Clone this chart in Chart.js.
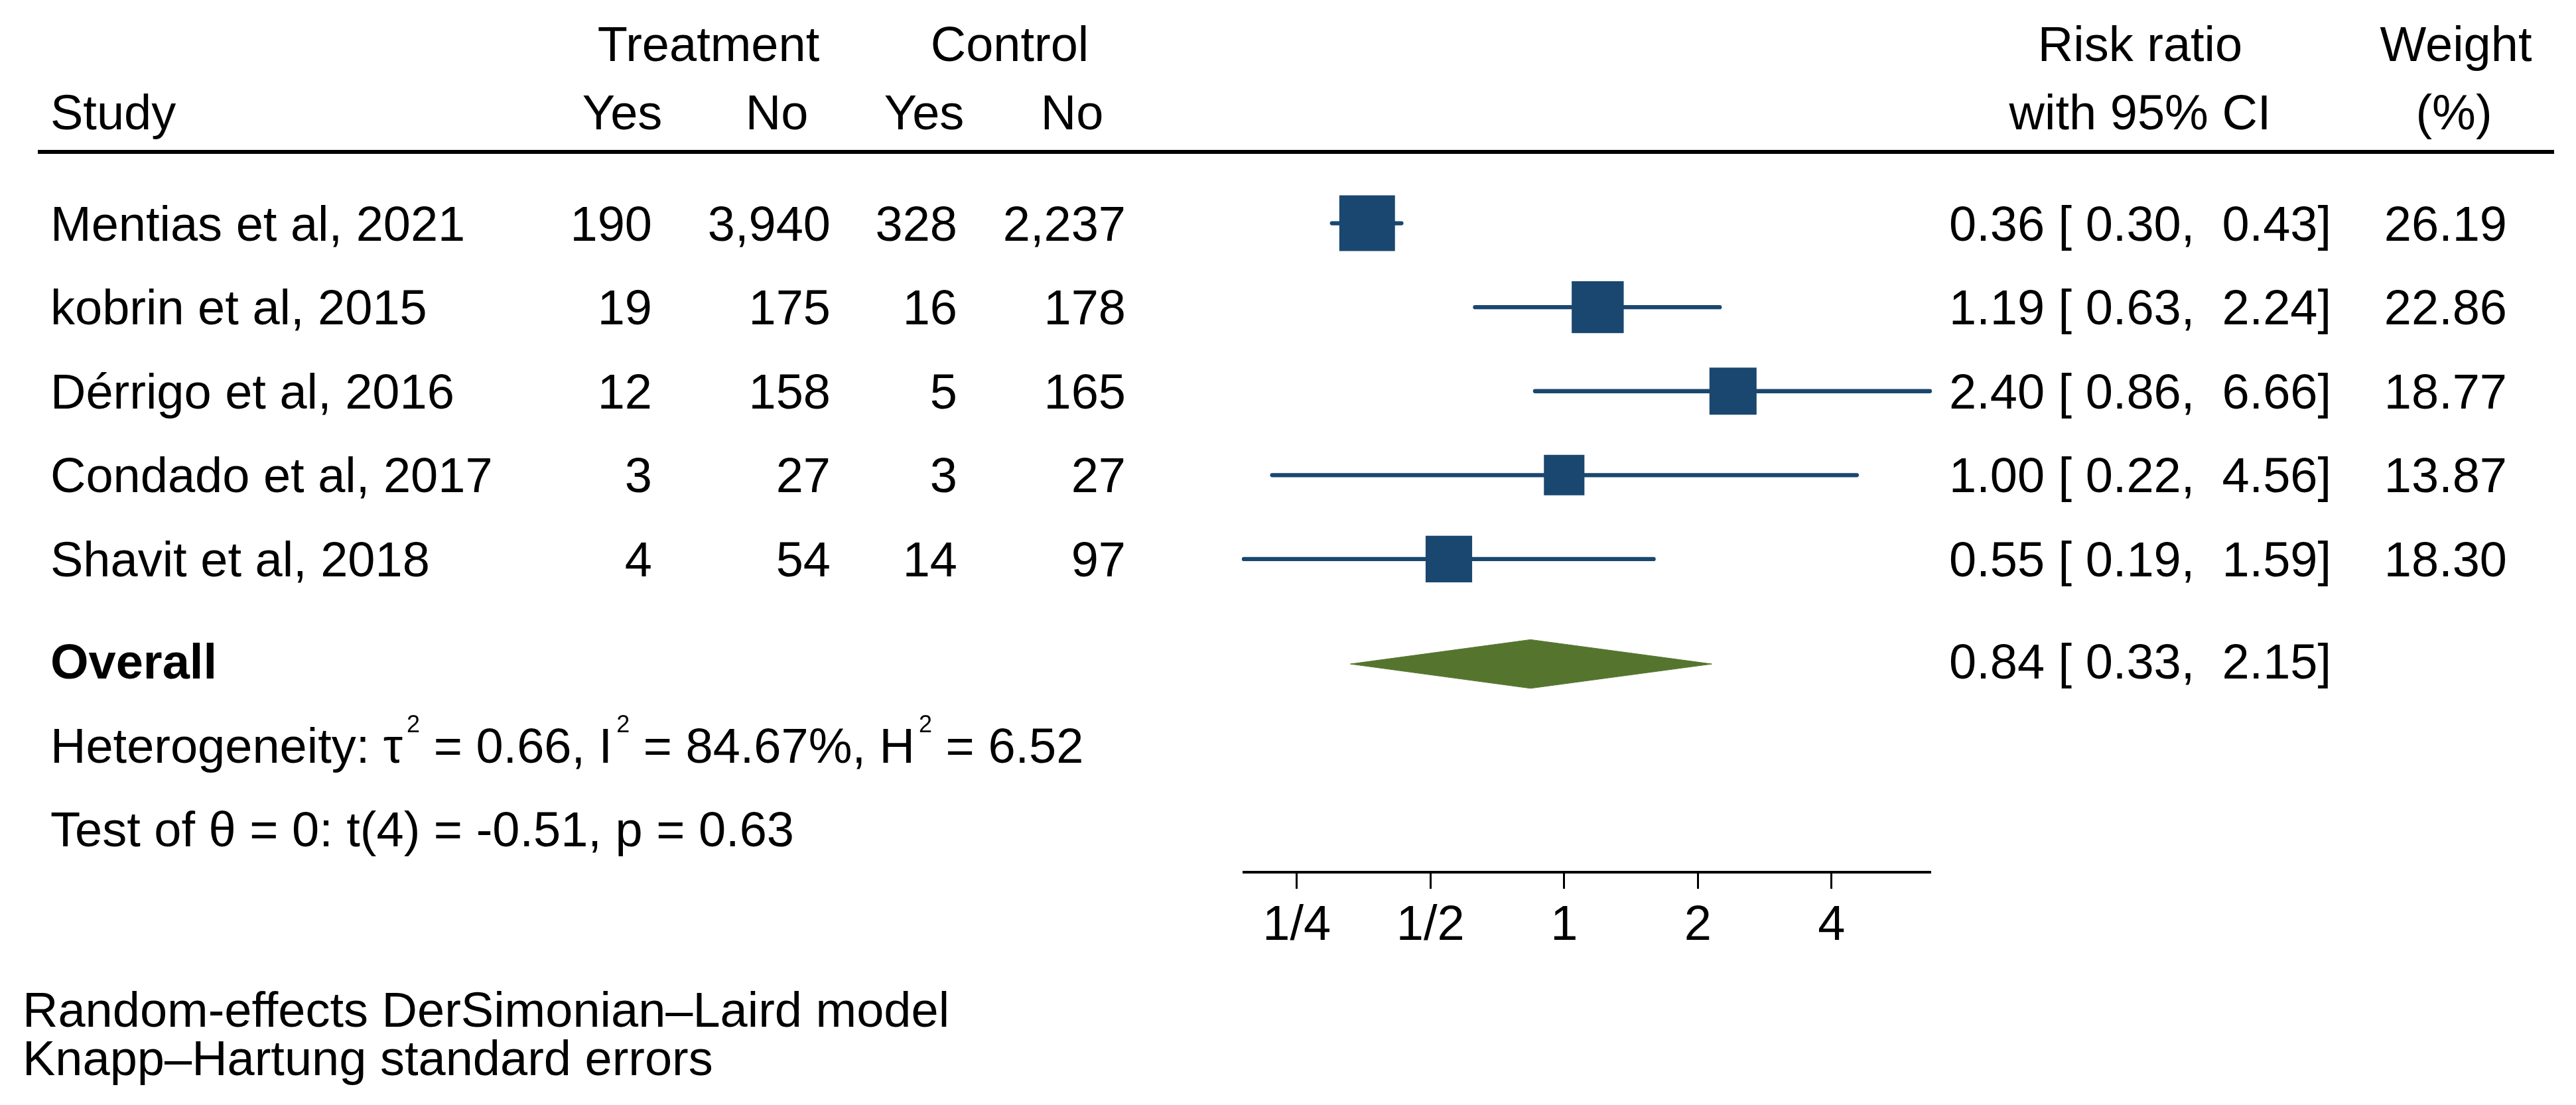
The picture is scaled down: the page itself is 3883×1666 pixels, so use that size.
<!DOCTYPE html>
<html>
<head>
<meta charset="utf-8">
<script src="https://cdn.jsdelivr.net/npm/chart.js@4.4.1/dist/chart.umd.min.js"></script>
<style>
  html, body { margin: 0; padding: 0; background: #fff; }
  #wrap { width: 3883px; height: 1666px; }
</style>
</head>
<body>
<div id="wrap"><canvas id="forest" width="3883" height="1666"></canvas></div>
<script>
// study table
const studies = ['Mentias et al, 2021', 'kobrin et al, 2015', 'Dérrigo et al, 2016', 'Condado et al, 2017', 'Shavit et al, 2018'];
const treatYes = [190, 19, 12, 3, 4];
const treatNo = [3940, 175, 158, 27, 54];
const ctrlYes = [328, 16, 5, 3, 14];
const ctrlNo = [2237, 178, 165, 27, 97];

// risk ratios, 95% CI and weights
const rr = [0.36, 1.19, 2.40, 1.00, 0.55];
const ciLow = [0.30, 0.63, 0.86, 0.22, 0.19];
const ciHigh = [0.43, 2.24, 6.66, 4.56, 1.59];
const weights = [26.19, 22.86, 18.77, 13.87, 18.30];

// pooled estimate
const overallRR = 0.84;
const overallLow = 0.33;
const overallHigh = 2.15;

// x axis
const tickValues = [0.25, 0.5, 1, 2, 4];
const tickLabels = ['1/4', '1/2', '1', '2', '4'];

const FONT = '"Liberation Sans", Arial, Helvetica, sans-serif';
const NAVY = '#1a476f';
const GREEN = '#55752f';
const overallRow = 6.25;

const fmt = n => n.toLocaleString('en-US');
const ciText = (e, l, h) => e.toFixed(2) + ' [ ' + l.toFixed(2) + ',  ' + h.toFixed(2) + ']';

const datasets = [];

// CI whiskers
studies.forEach((s, i) => {
  datasets.push({
    data: [{ x: ciLow[i], y: i + 1 }, { x: ciHigh[i], y: i + 1 }],
    showLine: true,
    borderColor: NAVY,
    borderWidth: 6.3,
    borderCapStyle: 'round',
    pointRadius: 0,
    clip: false,
    order: 2
  });
});

// weighted boxes (area ~ weight)
datasets.push({
  data: rr.map((v, i) => ({ x: v, y: i + 1 })),
  pointStyle: 'rect',
  pointRadius: weights.map(w => 16.4 * Math.sqrt(w) / Math.SQRT2),
  backgroundColor: NAVY,
  borderWidth: 0,
  order: 0
});

// overall diamond
const dh = 0.29;
datasets.push({
  data: [
    { x: overallLow, y: overallRow },
    { x: overallRR, y: overallRow - dh },
    { x: overallHigh, y: overallRow },
    { x: overallRR, y: overallRow + dh },
    { x: overallLow, y: overallRow }
  ],
  showLine: true,
  fill: 'shape',
  backgroundColor: GREEN,
  borderColor: GREEN,
  borderWidth: 1,
  pointRadius: 0,
  order: 1
});

function drawSup(ctx, parts, x, base) {
  // parts: [text, isSuperscript]
  let cx = x;
  ctx.textAlign = 'left';
  parts.forEach(([t, sup]) => {
    ctx.font = (sup ? '36px ' : '74px ') + FONT;
    if (sup) cx += 6;
    ctx.fillText(t, cx, sup ? base - 46 : base);
    cx += ctx.measureText(t).width;
  });
}

const tablePlugin = {
  id: 'table',
  beforeDraw(chart) {
    const c = chart.ctx;
    c.save();
    c.fillStyle = '#fff';
    c.fillRect(0, 0, chart.width, chart.height);
    c.restore();
  },
  afterDraw(chart) {
    const ctx = chart.ctx;
    const ys = chart.scales.y;
    const put = (t, x, y, align) => { ctx.textAlign = align; ctx.fillText(t, x, y); };
    ctx.save();
    ctx.fillStyle = '#000';
    ctx.textBaseline = 'alphabetic';
    ctx.font = '74px ' + FONT;

    // headers
    put('Treatment', 1068, 92, 'center');
    put('Control', 1522, 92, 'center');
    put('Risk ratio', 3226, 92, 'center');
    put('Weight', 3702, 92, 'center');
    put('Study', 76, 195, 'left');
    put('Yes', 938, 195, 'center');
    put('No', 1171, 195, 'center');
    put('Yes', 1393, 195, 'center');
    put('No', 1616, 195, 'center');
    put('with 95% CI', 3226, 195, 'center');
    put('(%)', 3699, 195, 'center');
    ctx.fillRect(57, 226, 3850 - 57, 6);

    // study rows
    studies.forEach((s, i) => {
      const base = ys.getPixelForValue(i + 1) + 26;
      put(s, 76, base, 'left');
      put(fmt(treatYes[i]), 983, base, 'right');
      put(fmt(treatNo[i]), 1252, base, 'right');
      put(fmt(ctrlYes[i]), 1443, base, 'right');
      put(fmt(ctrlNo[i]), 1697, base, 'right');
      put(ciText(rr[i], ciLow[i], ciHigh[i]), 3514, base, 'right');
      put(weights[i].toFixed(2), 3779, base, 'right');
    });

    // overall row
    const ob = ys.getPixelForValue(overallRow) + 22;
    put(ciText(overallRR, overallLow, overallHigh), 3514, ob, 'right');
    ctx.font = 'bold 74px ' + FONT;
    put('Overall', 76, ob, 'left');

    drawSup(ctx, [
      ['Heterogeneity: \u03c4', false], ['2', true], [' = 0.66, I', false], ['2', true],
      [' = 84.67%, H', false], ['2', true], [' = 6.52', false]
    ], 76, 1150);

    ctx.font = '74px ' + FONT;
    put('Test of \u03b8 = 0: t(4) = -0.51, p = 0.63', 76, 1276, 'left');
    put('Random-effects DerSimonian\u2013Laird model', 34, 1548, 'left');
    put('Knapp\u2013Hartung standard errors', 34, 1621, 'left');
    ctx.restore();
  }
};

new Chart(document.getElementById('forest'), {
  type: 'scatter',
  data: { datasets },
  options: {
    responsive: false,
    devicePixelRatio: 1,
    animation: false,
    events: [],
    layout: { padding: { left: 1875, right: 974, top: 210, bottom: 201 } },
    plugins: { legend: { display: false }, tooltip: { enabled: false } },
    scales: {
      x: {
        type: 'logarithmic',
        position: 'bottom',
        min: 0.19,
        max: 6.66,
        bounds: 'data',
        afterBuildTicks: s => { s.ticks = tickValues.map(v => ({ value: v })); },
        afterFit: s => { s.height = 150; },
        grid: { display: true, drawOnChartArea: false, drawTicks: true, tickLength: 25, color: '#000', lineWidth: 3 },
        border: { display: true, color: '#000', width: 4 },
        ticks: {
          callback: (v, i) => tickLabels[i],
          autoSkip: false,
          maxRotation: 0,
          padding: 12,
          color: '#000',
          font: { size: 74, family: FONT }
        }
      },
      y: { type: 'linear', reverse: true, min: 0, max: 8.73, display: false }
    }
  },
  plugins: [tablePlugin]
});
</script>
</body>
</html>
